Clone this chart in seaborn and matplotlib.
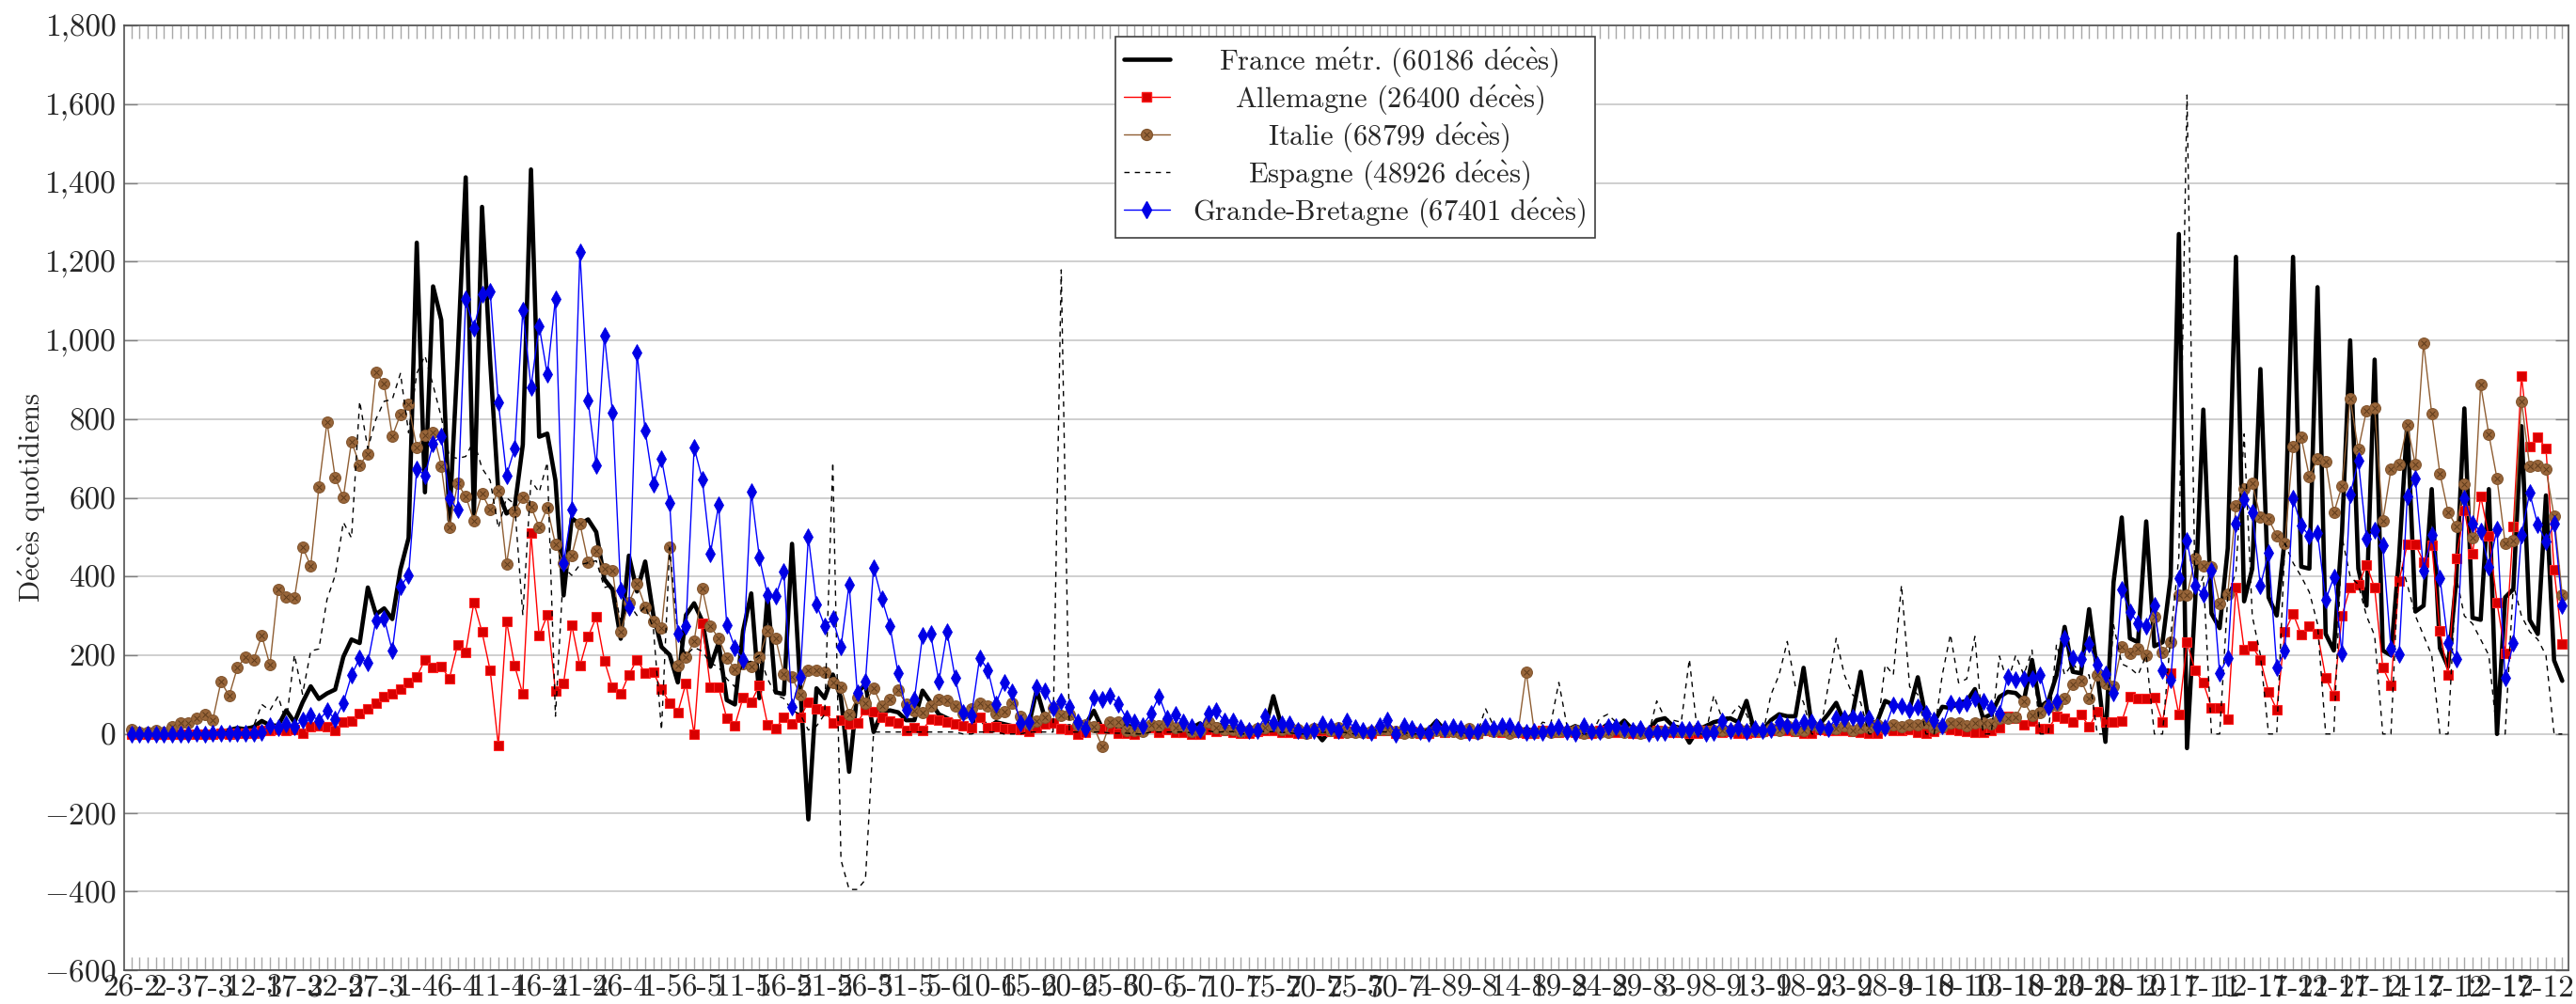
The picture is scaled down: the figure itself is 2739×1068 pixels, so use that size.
import datetime as dt
import numpy as np
import pandas as pd
import seaborn as sns
import matplotlib.pyplot as plt
from matplotlib.lines import Line2D
from matplotlib.ticker import MultipleLocator, FuncFormatter

# daily deaths from 26-2-2020, one value per day
start = dt.date(2020, 2, 26)

france = [0, 0, 0, 0, 0, 0, 1, 2, 0, 3,
          5, 5, 10, 15, 12, 18, 33, 22, 21, 60,
          30, 80, 121, 89, 103, 113, 196, 240, 231, 372,
          304, 319, 292, 418, 498, 1248, 614, 1137, 1052, 543,
          950, 1414, 554, 1339, 946, 614, 560, 575, 735, 1434,
          755, 763, 644, 352, 548, 533, 545, 513, 393, 367,
          242, 453, 362, 438, 302, 221, 201, 131, 302, 332,
          287, 171, 231, 86, 75, 262, 357, 91, 352, 106,
          101, 483, 121, -217, 116, 91, 151, 91, -96, 106,
          126, 5, 55, 60, 55, 35, 35, 110, 80, 50,
          40, 30, 25, 20, 45, 15, 30, 25, 20, 15,
          20, 112, 40, 30, 15, 20, 10, 25, 59, 15,
          20, 15, 25, 10, 15, 20, 15, 20, 15, 10,
          15, 27, 10, 25, 20, 15, 10, 5, 10, 15,
          96, 20, 10, 15, 5, 10, -16, 10, 10, 15,
          12, 10, 8, 15, 12, 5, 10, 14, 8, 10,
          33, 10, 12, 8, 15, 6, 12, 10, 15, 8,
          10, 12, 8, 15, 10, 15, 10, 20, 12, 8,
          10, 25, 15, 34, 12, 8, 10, 35, 40, 20,
          15, -22, 10, 20, 30, 35, 40, 30, 84, 5,
          10, 35, 50, 45, 45, 168, 20, 25, 50, 79,
          30, 50, 158, 30, 30, 84, 74, 69, 64, 144,
          40, 30, 69, 66, 79, 84, 114, 40, 50, 94,
          107, 104, 84, 188, 69, 84, 149, 272, 158, 154,
          317, 158, -20, 386, 550, 243, 233, 540, 223, 233,
          399, 1270, -36, 337, 824, 306, 269, 472, 1212, 337,
          420, 927, 347, 301, 500, 1212, 425, 420, 1135, 254,
          212, 513, 1000, 420, 326, 951, 212, 200, 451, 793,
          311, 326, 622, 218, 171, 389, 827, 295, 290, 622,
          0, 347, 368, 782, 290, 254, 606, 187, 135]

allemagne = [0, 0, 0, 0, 0, 0, 0, 0, 0, 0,
             0, 1, 0, 2, 1, 3, 8, 10, 12, 10,
             12, 3, 18, 22, 18, 10, 30, 34, 52, 63,
             79, 95, 103, 115, 131, 145, 189, 169, 171, 141,
             226, 208, 334, 259, 161, -30, 287, 173, 101, 510,
             249, 302, 109, 129, 277, 173, 247, 297, 186, 118,
             101, 151, 189, 154, 156, 114, 79, 55, 129, 0,
             282, 118, 118, 40, 22, 93, 81, 124, 24, 14,
             42, 25, 42, 81, 63, 60, 28, 35, 25, 28,
             62, 57, 42, 34, 27, 10, 15, 10, 38, 35,
             30, 25, 20, 15, 43, 16, 19, 14, 14, 11,
             7, 16, 25, 27, 13, 11, 0, 5, 18, 14,
             14, 3, 3, 0, 11, 16, 5, 11, 5, 5,
             0, 0, 11, 7, 8, 5, 3, 2, 6, 10,
             8, 5, 4, 2, 1, 8, 10, 6, 3, 7,
             5, 4, 2, 9, 8, 1, 7, 6, 2, 3,
             8, 5, 6, 4, 1, 2, 9, 7, 5, 6,
             4, 2, 1, 8, 6, 5, 7, 4, 1, 3,
             9, 6, 5, 7, 3, 1, 4, 8, 6, 5,
             4, 2, 1, 9, 7, 5, 6, 3, 2, 4,
             7, 10, 12, 8, 6, 3, 2, 11, 9, 8,
             10, 7, 5, 3, 2, 13, 10, 8, 12, 4,
             3, 6, 16, 12, 9, 7, 5, 4, 9, 15,
             45, 40, 23, 32, 13, 13, 45, 40, 30, 50,
             18, 57, 30, 30, 32, 96, 89, 89, 92, 31,
             155, 49, 233, 161, 130, 67, 67, 38, 373, 215,
             223, 189, 107, 62, 259, 306, 252, 275, 256, 143,
             98, 301, 373, 378, 430, 371, 169, 124, 389, 482,
             482, 437, 480, 261, 150, 446, 568, 458, 604, 503,
             334, 205, 527, 909, 729, 754, 726, 418, 228]

italie = [12, 5, 4, 8, 5, 18, 27, 28, 41, 49,
          36, 133, 97, 168, 196, 189, 250, 175, 368, 349,
          345, 475, 427, 627, 793, 651, 601, 743, 683, 712,
          919, 889, 756, 812, 837, 727, 760, 766, 681, 525,
          636, 604, 542, 610, 570, 619, 431, 566, 602, 578,
          525, 575, 482, 433, 454, 534, 437, 464, 420, 415,
          260, 333, 382, 323, 285, 269, 474, 174, 195, 236,
          369, 274, 243, 194, 165, 179, 172, 195, 262, 242,
          153, 145, 99, 162, 161, 156, 130, 119, 50, 92,
          78, 117, 70, 87, 111, 75, 60, 55, 71, 88,
          85, 72, 53, 65, 79, 71, 53, 56, 78, 44,
          26, 34, 43, 66, 47, 49, 24, 23, 18, -31,
          30, 30, 8, 8, 6, 23, 21, 30, 15, 21,
          7, 8, 30, 15, 12, 12, 7, 9, 13, 17,
          20, 11, 13, 11, 3, 13, 15, 9, 15, 5,
          5, 5, 7, 11, 11, 6, 3, 4, 5, 5,
          10, 6, 6, 3, 13, 2, 12, 6, 10, 3,
          6, 158, 4, 7, 4, 6, 6, 9, 3, 7,
          4, 4, 13, 5, 9, 1, 4, 6, 6, 10,
          6, 10, 11, 7, 9, 10, 10, 14, 10, 9,
          7, 14, 9, 20, 10, 10, 24, 15, 14, 13,
          20, 10, 17, 17, 24, 16, 24, 19, 23, 24,
          27, 17, 18, 28, 28, 22, 28, 29, 26, 39,
          41, 43, 83, 47, 55, 69, 73, 89, 127, 136,
          91, 151, 128, 121, 221, 205, 217, 199, 297, 208,
          233, 353, 352, 445, 426, 425, 331, 356, 580, 623,
          636, 550, 546, 504, 484, 731, 753, 653, 699, 692,
          562, 630, 853, 722, 822, 827, 541, 672, 686, 785,
          684, 993, 814, 662, 564, 528, 634, 499, 887, 761,
          649, 484, 491, 846, 680, 683, 674, 553, 352]

espagne = [0, 0, 0, 0, 0, 0, 1, 0, 1, 2,
           3, 5, 8, 10, 17, 20, 75, 60, 96, 30,
           201, 101, 211, 216, 342, 403, 538, 498, 845, 725,
           800, 845, 850, 916, 765, 916, 961, 886, 805, 705,
           700, 705, 745, 675, 644, 523, 600, 584, 302, 644,
           614, 690, 45, 423, 403, 430, 435, 440, 372, 378,
           288, 331, 301, 325, 268, 10, 473, 250, 200, 220,
           210, 180, 170, 140, 120, 180, 185, 200, 140, 100,
           90, 60, 50, 10, 20, 50, 690, -320, -395, -395,
           -370, 5, 5, 5, 5, 5, 5, 5, 5, 5,
           5, 5, 0, 0, 5, 5, 5, 0, 0, 0,
           5, 5, 5, 5, 1179, 5, 5, 5, 5, 5,
           2, 2, 2, 0, 0, 5, 5, 5, 5, 5,
           3, 5, 8, 4, 6, 6, 0, 0, 10, 5,
           6, 4, 3, 0, 0, 8, 4, 5, 6, 3,
           0, 0, 12, 6, 5, 4, 3, 0, 0, 15,
           8, 10, 5, 4, 0, 0, 65, 20, 15, 10,
           8, 0, 0, 30, 25, 131, 20, 15, 0, 0,
           40, 50, 30, 25, 20, 0, 0, 84, 40, 35,
           30, 190, 0, 0, 98, 40, 45, 72, 50, 0,
           0, 100, 150, 235, 120, 80, 0, 0, 120, 243,
           150, 100, 80, 0, 0, 176, 150, 378, 120, 100,
           0, 0, 150, 253, 130, 140, 248, 0, 0, 198,
           130, 200, 150, 213, 0, 0, 228, 150, 180, 150,
           150, 0, 0, 277, 178, 168, 150, 200, 0, 0,
           250, 450, 1623, 350, 400, 0, 0, 350, 411, 762,
           300, 200, 0, 0, 484, 435, 400, 360, 280, 0,
           0, 500, 400, 380, 300, 250, 0, 0, 450, 380,
           300, 250, 200, 0, 0, 400, 300, 280, 240, 200,
           0, 0, 380, 300, 260, 240, 200, 0, 0]

grande_bretagne = [0, 0, 0, 0, 0, 0, 0, 0, 1, 0,
                   1, 1, 1, 2, 1, 2, 5, 22, 16, 25,
                   19, 35, 48, 34, 60, 37, 79, 149, 193, 181,
                   289, 294, 211, 375, 403, 674, 657, 738, 757, 599,
                   569, 1105, 1031, 1117, 1124, 843, 657, 725, 1077, 881,
                   1037, 913, 1106, 433, 571, 1225, 847, 682, 1012, 815,
                   365, 322, 969, 770, 634, 699, 586, 255, 274, 728,
                   647, 459, 581, 277, 219, 188, 616, 448, 352, 350,
                   413, 68, 146, 501, 330, 274, 292, 221, 380, 105,
                   134, 423, 344, 275, 154, 62, 88, 250, 254, 133,
                   259, 142, 54, 48, 194, 163, 77, 130, 107, 27,
                   30, 119, 110, 66, 83, 69, 30, 13, 93, 87,
                   98, 77, 39, 30, 22, 52, 96, 39, 49, 30,
                   19, 11, 53, 58, 33, 33, 16, 9, 9, 44,
                   27, 25, 25, 9, 9, 9, 25, 18, 10, 33,
                   16, 9, 4, 21, 36, 0, 21, 14, 6, 2,
                   19, 14, 19, 13, 4, 6, 19, 14, 22, 20,
                   11, 4, 6, 4, 12, 18, 7, 2, 20, 7,
                   6, 18, 18, 14, 10, 13, 2, 4, 4, 11,
                   12, 12, 14, 3, 5, 33, 10, 16, 7, 13,
                   8, 12, 30, 20, 20, 30, 30, 18, 13, 40,
                   40, 43, 37, 40, 18, 15, 74, 72, 61, 69,
                   52, 35, 20, 79, 74, 79, 89, 84, 66, 52,
                   146, 139, 141, 141, 151, 69, 82, 243, 193, 191,
                   228, 175, 152, 104, 368, 310, 282, 275, 327, 163,
                   137, 397, 492, 376, 355, 415, 155, 194, 534, 596,
                   563, 376, 461, 168, 212, 598, 529, 503, 511, 340,
                   399, 205, 608, 694, 497, 518, 480, 216, 202, 603,
                   648, 415, 505, 397, 231, 190, 599, 534, 516, 425,
                   520, 143, 231, 506, 613, 531, 489, 534, 326]

# accents written with mathtext so that they come out in Computer Modern
E_AIGU = r'$\mathrm{\acute{e}}$'
E_GRAVE = r'$\mathrm{\grave{e}}$'
DECES = 'd' + E_AIGU + 'c' + E_GRAVE + 's'
labels = ['France m' + E_AIGU + 'tr. (60186 ' + DECES + ')',
          'Allemagne (26400 ' + DECES + ')',
          'Italie (68799 ' + DECES + ')',
          'Espagne (48926 ' + DECES + ')',
          'Grande-Bretagne (67401 ' + DECES + ')']
ylabel = 'D' + E_AIGU + 'c' + E_GRAVE + 's quotidiens'

n = len(france)
jours = np.arange(n)
tick_days = np.arange(0, n, 5)
tick_labels = []
for d in tick_days:
    date = start + dt.timedelta(days=int(d))
    tick_labels.append(f"{date.day}-{date.month}")

df = pd.DataFrame({'jour': jours, 'fr': france, 'de': allemagne, 'it': italie,
                   'es': espagne, 'gb': grande_bretagne})

sns.set_style("ticks")
plt.rcParams['font.family'] = ['cmr10', 'DejaVu Serif']
plt.rcParams['mathtext.fontset'] = 'cm'
plt.rcParams['axes.unicode_minus'] = False

fig = plt.figure(figsize=(27.39, 10.68), dpi=100)
ax = fig.add_axes([0.0481, 0.0337, 0.9491, 0.9410])

brown = '#8f5e33'
# France
sns.lineplot(data=df, x='jour', y='fr', ax=ax, color='black', linewidth=3.3)
# Allemagne
sns.lineplot(data=df, x='jour', y='de', ax=ax, color='#ff0000', linewidth=1.0,
             marker='s', markersize=7.5, markerfacecolor='#d80000',
             markeredgecolor='#ff2020', markeredgewidth=0.8)
# Italie
sns.lineplot(data=df, x='jour', y='it', ax=ax, color=brown, linewidth=1.0,
             marker='o', markersize=8.5, markerfacecolor='#99663a',
             markeredgecolor='#82552e', markeredgewidth=0.8)
ax.plot(df['jour'], df['it'], linestyle='none', marker='x', markersize=4.5,
        markeredgecolor='#5e3b1c', markeredgewidth=0.7)
# Espagne
sns.lineplot(data=df, x='jour', y='es', ax=ax, color='black', linewidth=1.0,
             linestyle=(0, (4, 4)))
# Grande-Bretagne
sns.lineplot(data=df, x='jour', y='gb', ax=ax, color='#0000ff', linewidth=1.0,
             marker='d', markersize=9, markerfacecolor='#0000e6',
             markeredgecolor='#0000e6', markeredgewidth=0.6)

ax.set_xlim(-0.9, n - 0.2)
ax.set_ylim(-600, 1800)
ax.set_xticks(tick_days)
ax.set_xticklabels(tick_labels)
ax.xaxis.set_minor_locator(MultipleLocator(1))
ax.set_yticks(np.arange(-600, 1801, 200))


def fmt(v, pos):
    if v < 0:
        return '$-$' + f'{-v:,.0f}'
    return f'{v:,.0f}'


ax.yaxis.set_major_formatter(FuncFormatter(fmt))
ax.tick_params(axis='x', which='both', direction='in', top=True, bottom=True,
               length=10, width=1, color='#a8a8a8')
ax.tick_params(axis='x', which='major', labelsize=24, pad=3)
ax.tick_params(axis='y', which='major', direction='in', left=True, right=True,
               length=10, width=1, color='#808080', labelsize=24, pad=6)
ax.yaxis.grid(True, color='#cfcfcf', linewidth=1.4)
ax.xaxis.grid(False)
ax.set_axisbelow(True)
for s in ax.spines.values():
    s.set_color('#505050')
    s.set_linewidth(1.2)
ax.set_xlabel('')
ax.set_ylabel(ylabel, fontsize=22)
ax.yaxis.set_label_coords(-0.031, 0.5)

handles = [
    Line2D([], [], color='black', linewidth=3.3),
    Line2D([], [], color='#ff0000', linewidth=1.0, marker='s', markersize=7.5,
           markerfacecolor='#d80000', markeredgecolor='#ff2020'),
    (Line2D([], [], color=brown, linewidth=1.0, marker='o', markersize=8.5,
            markerfacecolor='#99663a', markeredgecolor='#82552e'),
     Line2D([], [], linestyle='none', marker='x', markersize=4.5,
            markeredgecolor='#5e3b1c', markeredgewidth=0.7)),
    Line2D([], [], color='black', linewidth=1.0, linestyle=(0, (4, 4))),
    Line2D([], [], color='#0000ff', linewidth=1.0, marker='d', markersize=9,
           markerfacecolor='#0000e6', markeredgecolor='#0000e6'),
]
leg = ax.legend(handles, labels, loc='upper center', bbox_to_anchor=(0.5035, 0.988),
                fontsize=22, frameon=True, fancybox=False, framealpha=1,
                edgecolor='#404040', handlelength=1.6, labelspacing=0.15,
                borderpad=0.3, handletextpad=0.8, borderaxespad=0)
leg.get_frame().set_linewidth(1.2)

# centre the legend texts like the original
fig.canvas.draw()
texts = leg.get_texts()
widths = [t.get_window_extent().width for t in texts]
wmax = max(widths)
for t, w in zip(texts, widths):
    t.set_position(((wmax - w) / 2, 0))

fig.savefig('out.png', dpi=100)
